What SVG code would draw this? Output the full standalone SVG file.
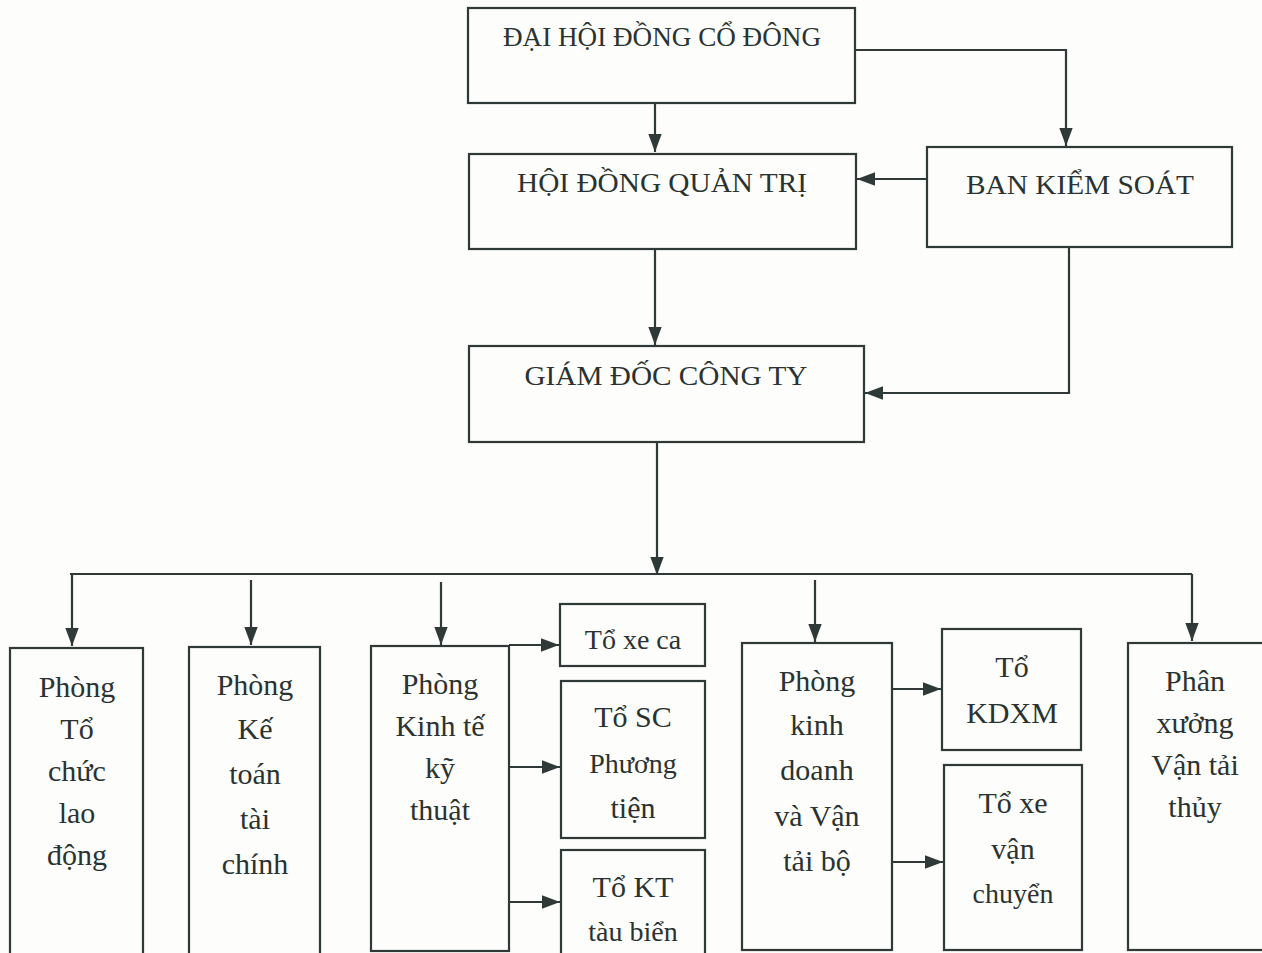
<svg xmlns="http://www.w3.org/2000/svg" width="1262" height="953" viewBox="0 0 1262 953">
<style>
.box{fill:none;stroke:#2f3a38;stroke-width:2.2}
.ln{fill:none;stroke:#2f3a38;stroke-width:2.2}
.t{font-family:"Liberation Serif","Times New Roman",serif;fill:#2a3331;text-anchor:middle}
.h{font-size:27px}
.b{font-size:30px}
</style>
<defs>
<marker id="a" viewBox="0 0 10 10" refX="10" refY="5" markerWidth="18" markerHeight="18" markerUnits="userSpaceOnUse" orient="auto">
<path d="M0,1.3 L10,5 L0,8.7 z" fill="#2f3a38"/>
</marker>
</defs>
<rect width="1262" height="953" fill="#fdfdfb"/>
<g id="connectors">
<path class="ln" d="M655,103 V152" marker-end="url(#a)"/>
<path class="ln" d="M855,50 H1066 V146" marker-end="url(#a)"/>
<path class="ln" d="M927,179 H857" marker-end="url(#a)"/>
<path class="ln" d="M655,249 V345" marker-end="url(#a)"/>
<path class="ln" d="M1069,247 V393 H865" marker-end="url(#a)"/>
<path class="ln" d="M657,442 V575" marker-end="url(#a)"/>
<path class="ln" d="M70,574 H1192"/>
<path class="ln" d="M72,574 V646" marker-end="url(#a)"/>
<path class="ln" d="M251,580 V645" marker-end="url(#a)"/>
<path class="ln" d="M441,582 V645" marker-end="url(#a)"/>
<path class="ln" d="M815,580 V642" marker-end="url(#a)"/>
<path class="ln" d="M1192,574 V641" marker-end="url(#a)"/>
<path class="ln" d="M509,645 H559" marker-end="url(#a)"/>
<path class="ln" d="M509,767 H560" marker-end="url(#a)"/>
<path class="ln" d="M509,902 H560" marker-end="url(#a)"/>
<path class="ln" d="M892,689 H941" marker-end="url(#a)"/>
<path class="ln" d="M892,862 H943" marker-end="url(#a)"/>
</g>
<g id="dhdcd">
<rect class="box" x="468" y="8" width="387" height="95"/>
<text class="t h" x="662" y="46" textLength="318" lengthAdjust="spacingAndGlyphs">ĐẠI HỘI ĐỒNG CỔ ĐÔNG</text>
</g>
<g id="hdqt">
<rect class="box" x="469" y="154" width="387" height="95"/>
<text class="t h" x="662" y="192" textLength="290" lengthAdjust="spacingAndGlyphs">HỘI ĐỒNG QUẢN TRỊ</text>
</g>
<g id="bks">
<rect class="box" x="927" y="147" width="305" height="100"/>
<text class="t h" x="1080" y="194" textLength="228" lengthAdjust="spacingAndGlyphs">BAN KIỂM SOÁT</text>
</g>
<g id="gd">
<rect class="box" x="469" y="346" width="395" height="96"/>
<text class="t h" x="666" y="385" textLength="283" lengthAdjust="spacingAndGlyphs">GIÁM ĐỐC CÔNG TY</text>
</g>
<g id="p-tcld">
<rect class="box" x="10" y="648" width="133" height="310"/>
<text class="t b" x="77" y="697">Phòng</text>
<text class="t b" x="77" y="739">Tổ</text>
<text class="t b" x="77" y="781">chức</text>
<text class="t b" x="77" y="823">lao</text>
<text class="t b" x="77" y="865">động</text>
</g>
<g id="p-ktc">
<rect class="box" x="189" y="647" width="131" height="310"/>
<text class="t b" x="255" y="695">Phòng</text>
<text class="t b" x="255" y="739">Kế</text>
<text class="t b" x="255" y="784">toán</text>
<text class="t b" x="255" y="829">tài</text>
<text class="t b" x="255" y="874">chính</text>
</g>
<g id="p-ktkt">
<rect class="box" x="371" y="646" width="138" height="305"/>
<text class="t b" x="440" y="694">Phòng</text>
<text class="t b" x="440" y="736">Kinh tế</text>
<text class="t b" x="440" y="778">kỹ</text>
<text class="t b" x="440" y="820">thuật</text>
</g>
<g id="to-xeca">
<rect class="box" x="560" y="604" width="145" height="62"/>
<text class="t" style="font-size:28px" x="633" y="649">Tổ xe ca</text>
</g>
<g id="to-scpt">
<rect class="box" x="561" y="681" width="144" height="157"/>
<text class="t b" x="633" y="727">Tổ SC</text>
<text class="t" style="font-size:28px" x="633" y="773">Phương</text>
<text class="t b" x="633" y="818">tiện</text>
</g>
<g id="to-kttb">
<rect class="box" x="561" y="850" width="144" height="108"/>
<text class="t b" x="633" y="897">Tổ KT</text>
<text class="t" style="font-size:28px" x="633" y="941">tàu biển</text>
</g>
<g id="p-kdvt">
<rect class="box" x="742" y="643" width="150" height="307"/>
<text class="t b" x="817" y="691">Phòng</text>
<text class="t b" x="817" y="735">kinh</text>
<text class="t b" x="817" y="780">doanh</text>
<text class="t b" x="817" y="826">và Vận</text>
<text class="t b" x="817" y="871">tải bộ</text>
</g>
<g id="to-kdxm">
<rect class="box" x="942" y="629" width="139" height="121"/>
<text class="t b" x="1012" y="677">Tổ</text>
<text class="t b" x="1012" y="723">KDXM</text>
</g>
<g id="to-xvc">
<rect class="box" x="944" y="765" width="138" height="185"/>
<text class="t b" x="1013" y="813">Tổ xe</text>
<text class="t b" x="1013" y="859">vận</text>
<text class="t" style="font-size:28px" x="1013" y="903">chuyển</text>
</g>
<g id="px-vtt">
<rect class="box" x="1128" y="643" width="140" height="307"/>
<text class="t b" x="1195" y="691">Phân</text>
<text class="t b" x="1195" y="733">xưởng</text>
<text class="t b" x="1195" y="775">Vận tải</text>
<text class="t b" x="1195" y="817">thủy</text>
</g>
</svg>
